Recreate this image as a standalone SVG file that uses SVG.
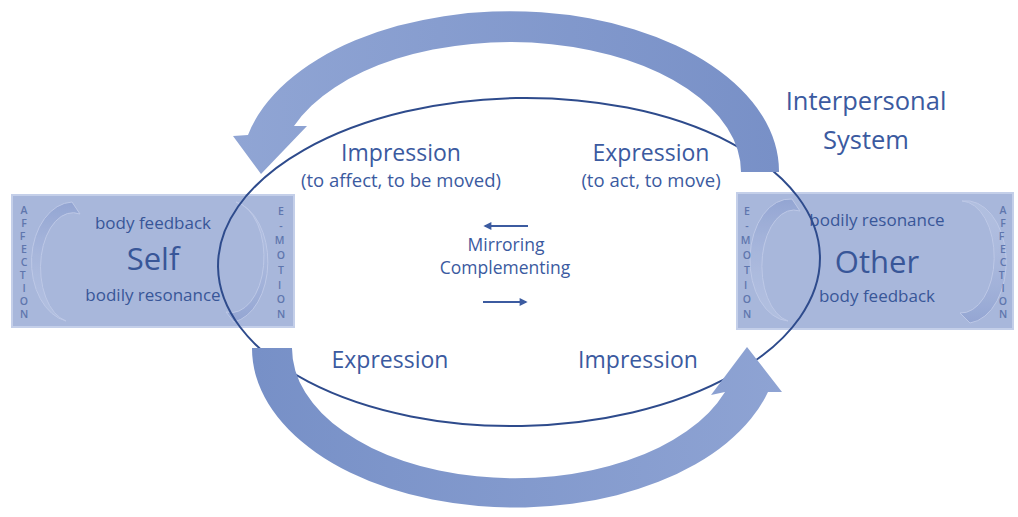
<svg xmlns="http://www.w3.org/2000/svg" width="1018" height="517" viewBox="0 0 1018 517">
  <defs>
    <style>
      text { font-family: "Open Sans", "Noto Sans", "DejaVu Sans", sans-serif; text-anchor: middle; }
      .lbl { fill: #3b5aa0; }
      .box { fill: #a8b7db; stroke: #c4cfe9; stroke-width: 2; }
      .boxtxt { fill: #385698; }
      .small { font-size: 17px; }
      .big { font-size: 31px; }
      .vert { font-size: 10.5px; font-weight: 600; fill: #5f76ad; }
      .loop-top { fill: url(#fadeDown); stroke: #c3cdea; stroke-width: 1; opacity: 0.8; }
      .loop-bot { fill: url(#fadeUp); stroke: #c3cdea; stroke-width: 1; opacity: 0.8; }
      .system { fill: none; stroke: #2e4b8c; stroke-width: 2; }
      .flow { stroke: #3c5ba0; stroke-width: 2; fill: none; marker-end: url(#head); }
    </style>
    <linearGradient id="topBand" x1="1" y1="0" x2="0" y2="0">
      <stop offset="0" stop-color="#7890c7"/>
      <stop offset="1" stop-color="#90a5d4"/>
    </linearGradient>
    <linearGradient id="botBand" x1="0" y1="0" x2="1" y2="0">
      <stop offset="0" stop-color="#7790c7"/>
      <stop offset="1" stop-color="#8ea3d3"/>
    </linearGradient>
    <linearGradient id="fadeDown" x1="0" y1="0" x2="0" y2="1">
      <stop offset="0" stop-color="#8c9fd0" stop-opacity="0.9"/>
      <stop offset="1" stop-color="#c9d3ec" stop-opacity="0.35"/>
    </linearGradient>
    <linearGradient id="fadeUp" x1="0" y1="1" x2="0" y2="0">
      <stop offset="0" stop-color="#8c9fd0" stop-opacity="0.9"/>
      <stop offset="1" stop-color="#c9d3ec" stop-opacity="0.35"/>
    </linearGradient>
    <marker id="head" viewBox="0 0 10 10" refX="8" refY="5" markerWidth="4.5" markerHeight="4" orient="auto">
      <path d="M0 0 L10 5 L0 10 Z" fill="#3c5ba0"/>
    </marker>
  </defs>

  <rect width="1018" height="517" fill="#ffffff"/>

  <!-- Self -->
  <g id="node-self">
    <rect class="box" x="12" y="195" width="282" height="132"/>
    <path class="loop-top" d="M 72 202 A 42 60 0 0 0 66 321 A 32 54 0 0 1 80 214 Z"/>
    <path class="loop-bot" d="M 236 202 A 40 61 0 0 1 234 322 L 226 312 A 32 54 0 0 0 236 202 Z"/>
    <text class="vert">
      <tspan x="24" y="214">A</tspan><tspan x="24" y="227">F</tspan><tspan x="24" y="240">F</tspan>
      <tspan x="24" y="253">E</tspan><tspan x="24" y="266">C</tspan><tspan x="24" y="279">T</tspan>
      <tspan x="24" y="292">I</tspan><tspan x="24" y="305">O</tspan><tspan x="24" y="318">N</tspan>
    </text>
    <text class="vert">
      <tspan x="281" y="215">E</tspan><tspan x="281" y="229.7">-</tspan><tspan x="281" y="244.4">M</tspan>
      <tspan x="281" y="259.1">O</tspan><tspan x="281" y="273.8">T</tspan><tspan x="281" y="288.5">I</tspan>
      <tspan x="281" y="303.2">O</tspan><tspan x="281" y="318">N</tspan>
    </text>
    <text class="boxtxt small" x="153" y="229">body feedback</text>
    <text class="boxtxt big" x="153" y="270">Self</text>
    <text class="boxtxt small" x="153" y="301">bodily resonance</text>
  </g>

  <!-- Other -->
  <g id="node-other">
    <rect class="box" x="737" y="193" width="276" height="136"/>
    <path class="loop-top" d="M 792 199 A 40 61 0 0 0 788 321 A 31 54 0 0 1 800 211 Z"/>
    <path class="loop-bot" d="M 962 201 A 40 61 0 0 1 970 323 L 960 313 A 32 54 0 0 0 962 201 Z"/>
    <text class="vert">
      <tspan x="747" y="215">E</tspan><tspan x="747" y="229.7">-</tspan><tspan x="747" y="244.4">M</tspan>
      <tspan x="747" y="259.1">O</tspan><tspan x="747" y="273.8">T</tspan><tspan x="747" y="288.5">I</tspan>
      <tspan x="747" y="303.2">O</tspan><tspan x="747" y="318">N</tspan>
    </text>
    <text class="vert">
      <tspan x="1003" y="214">A</tspan><tspan x="1003" y="227">F</tspan><tspan x="1003" y="240">F</tspan>
      <tspan x="1003" y="253">E</tspan><tspan x="1003" y="266">C</tspan><tspan x="1003" y="279">T</tspan>
      <tspan x="1003" y="292">I</tspan><tspan x="1003" y="305">O</tspan><tspan x="1003" y="318">N</tspan>
    </text>
    <text class="boxtxt small" x="877" y="226">bodily resonance</text>
    <text class="boxtxt big" x="877" y="273">Other</text>
    <text class="boxtxt small" x="877" y="302">body feedback</text>
  </g>

  <!-- Interpersonal system boundary -->
  <g id="interpersonal-system">
    <ellipse class="system" cx="519" cy="262" rx="301" ry="164" transform="rotate(-1 519 262)"/>
    <text class="lbl" x="866" y="110" font-size="25.5">Interpersonal</text>
    <text class="lbl" x="866" y="149" font-size="25.5">System</text>
  </g>

  <!-- Flows between Self and Other -->
  <g id="connectors">
    <path id="flow-other-to-self" fill="url(#topBand)"
          d="M 779 172 A 269 160 0 0 0 248 135 L 233 136 L 261 174 L 307 126 L 294 126 A 231 130 0 0 1 741 172 Z"/>
    <path id="flow-self-to-other" fill="url(#botBand)"
          d="M 292 348 L 252 348 A 263 159 0 0 0 768 392 L 782 392 L 747 347 L 711 395 L 725 392 A 223 130 0 0 1 292 348 Z"/>
    <line class="flow" x1="528" y1="226" x2="485" y2="226"/>
    <line class="flow" x1="483" y1="302" x2="526" y2="302"/>
  </g>

  <g id="labels" class="lbl">
    <text x="401" y="161" font-size="23">Impression</text>
    <text x="401" y="187" font-size="18.5">(to affect, to be moved)</text>
    <text x="651" y="161" font-size="23">Expression</text>
    <text x="651" y="187" font-size="18.5">(to act, to move)</text>
    <text x="506" y="251" font-size="17.5">Mirroring</text>
    <text x="505" y="274" font-size="17.5">Complementing</text>
    <text x="390" y="368" font-size="23">Expression</text>
    <text x="638" y="368" font-size="23">Impression</text>
  </g>
</svg>
